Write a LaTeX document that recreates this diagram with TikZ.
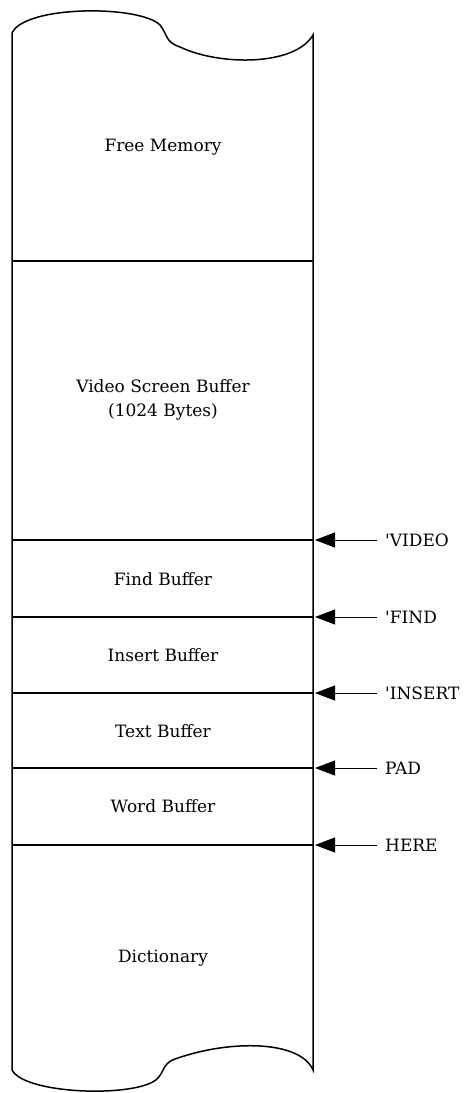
\documentclass[tikz,border=0pt]{standalone}
\usepackage{fontspec}
\setmainfont{DejaVu Serif}[Ligatures=TeXOff]
\usepackage{tikz}
\usetikzlibrary{arrows.meta, positioning}

\begin{document}
\begin{tikzpicture}[x=1pt,y=-1pt,
  divider/.style={line width=1.8pt},
  pointer/.style={line width=0.8pt,-{Triangle[length=20pt,width=15pt]}},
  region/.style={font=\fontsize{17}{24}\selectfont,align=center},
  mark label/.style={font=\fontsize{17}{24}\selectfont,anchor=west,inner xsep=8pt,inner ysep=0pt}]
\useasboundingbox (0,0) rectangle (466,1093);
% outline of the memory strip
\draw[line width=1.5pt] (12,1070) -- (12,33)
  .. controls (25,5) and (140,5) .. (160,25)
  .. controls (168,35) and (165,42) .. (180,47)
  .. controls (220,66) and (295,66) .. (313,35)
  -- (313,1070)
  .. controls (300,1040) and (230,1040) .. (178,1058)
  .. controls (163,1062) and (165,1070) .. (158,1078)
  .. controls (140,1098) and (25,1095) .. (12,1070);
% boundaries
\draw[divider] (12,261) -- (313,261);
\draw[divider] (12,540) -- (313,540);
\draw[divider] (12,617) -- (313,617);
\draw[divider] (12,693) -- (313,693);
\draw[divider] (12,768) -- (313,768);
\draw[divider] (12,845) -- (313,845);
% regions
\node[region] (free) at (163,147) {Free Memory};
\node[region] (video) at (163,400) {Video Screen Buffer\\(1024 Bytes)};
\node[region] (find) at (163,579) {Find Buffer};
\node[region] (insert) at (163,655) {Insert Buffer};
\node[region] (text) at (163,731) {Text Buffer};
\node[region] (word) at (163,806) {Word Buffer};
\node[region] (dict) at (163,958) {Dictionary};
% pointers
\coordinate (pvideo) at (315,540);
\coordinate (pfind) at (315,617);
\coordinate (pinsert) at (315,693);
\coordinate (ppad) at (315,768);
\coordinate (phere) at (315,845);
\node[mark label] (lvideo) at (377,540) {'VIDEO};
\node[mark label] (lfind) at (377,617) {'FIND};
\node[mark label] (linsert) at (377,693) {'INSERT};
\node[mark label] (lpad) at (377,768) {PAD};
\node[mark label] (lhere) at (377,845) {HERE};
\draw[pointer] (lvideo.west) -- (pvideo);
\draw[pointer] (lfind.west) -- (pfind);
\draw[pointer] (linsert.west) -- (pinsert);
\draw[pointer] (lpad.west) -- (ppad);
\draw[pointer] (lhere.west) -- (phere);
\end{tikzpicture}
\end{document}
